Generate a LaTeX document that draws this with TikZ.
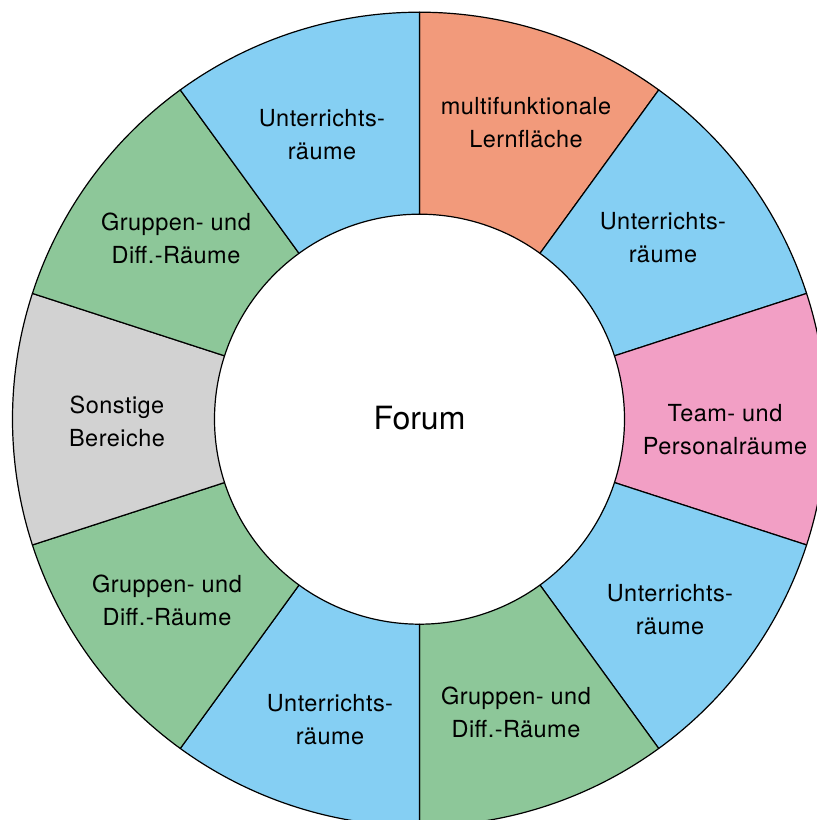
\documentclass[tikz,border=0pt]{standalone}
\usepackage{fontspec}
\setmainfont{TeX Gyre Heros}
\newfontfamily\labfont{TeX Gyre Heros}[LetterSpace=2]
\definecolor{cblue}{HTML}{85CFF3}
\definecolor{corange}{HTML}{F29A7B}
\definecolor{cpink}{HTML}{F29FC5}
\definecolor{cgreen}{HTML}{8DC799}
\definecolor{cgray}{HTML}{D2D2D2}
\tikzset{
  sector/.style={draw=black, line width=1.2pt, line join=round},
  lab/.style={align=center, inner sep=0pt, font=\labfont\fontsize{23.5}{33}\selectfont},
}
\newcommand{\ringsector}[3]{%
  \filldraw[sector, fill=#3] (#1:205) -- (#1:407)
    arc[start angle=#1, end angle=#2, radius=407] -- (#2:205)
    arc[start angle=#2, end angle=#1, radius=205] -- cycle;}
\begin{document}
\begin{tikzpicture}[x=1pt,y=1pt]
\useasboundingbox (0,0) rectangle (817,820);
\clip (0,0) rectangle (817,820);
\begin{scope}[shift={(419.5,400.8)}]
  \ringsector{54}{90}{corange}
  \ringsector{18}{54}{cblue}
  \ringsector{-18}{18}{cpink}
  \ringsector{-54}{-18}{cblue}
  \ringsector{-90}{-54}{cgreen}
  \ringsector{-126}{-90}{cblue}
  \ringsector{-162}{-126}{cgreen}
  \ringsector{162}{198}{cgray}
  \ringsector{126}{162}{cgreen}
  \ringsector{90}{126}{cblue}
\end{scope}
\node[font=\fontsize{32}{38}\selectfont, inner sep=0pt] (forum) at (419.5,402) {Forum};
\node[lab] (l1) at (526,697) {multifunktionale\\Lernfläche};
\node[lab] (l2) at (663,582) {Unterrichts-\\räume};
\node[lab] (l3) at (725,390) {Team- und\\Personalräume};
\node[lab] (l4) at (670,210) {Unterrichts-\\räume};
\node[lab] (l5) at (516,108) {Gruppen- und\\Diff.-Räume};
\node[lab] (l6) at (330,100) {Unterrichts-\\räume};
\node[lab] (l7) at (167,220) {Gruppen- und\\Diff.-Räume};
\node[lab] (l8) at (117,399) {Sonstige\\Bereiche};
\node[lab] (l9) at (176,582) {Gruppen- und\\Diff.-Räume};
\node[lab] (l10) at (322,685) {Unterrichts-\\räume};
\end{tikzpicture}
\end{document}
